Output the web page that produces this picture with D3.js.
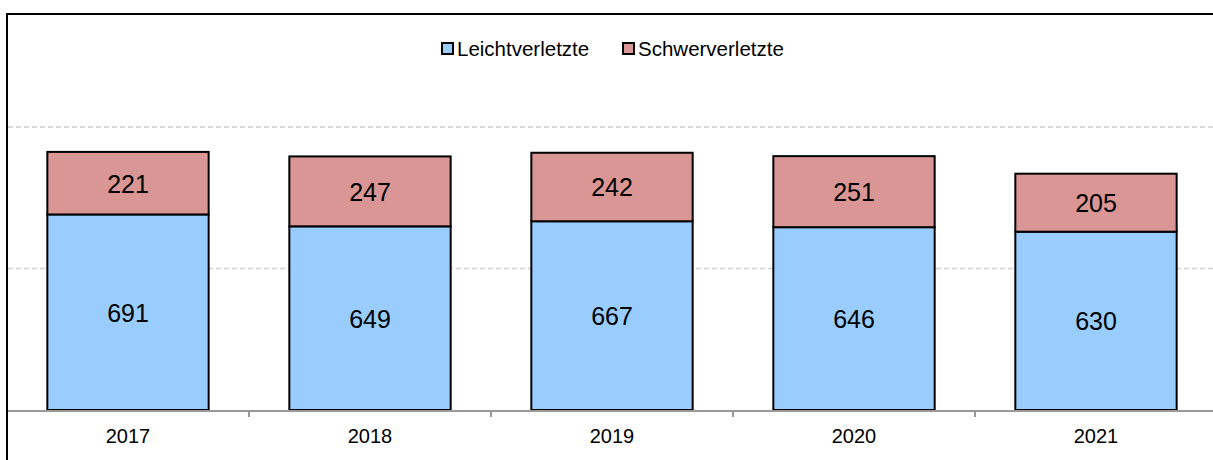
<!DOCTYPE html>
<html><head><meta charset="utf-8">
<script src="https://cdn.jsdelivr.net/npm/d3@7"></script>
<style>body{margin:0;background:#fff}svg{display:block}text{font-family:"Liberation Sans",Arial,sans-serif}</style>
</head><body><svg id="c" width="1213" height="460"></svg>
<script>
const years = ["2017","2018","2019","2020","2021"];
const leicht = [691, 649, 667, 646, 630];
const schwer = [221, 247, 242, 251, 205];
const seriesNames = ["Leichtverletzte","Schwerverletzte"];
const seriesColors = ["#99CCFF","#D99694"];
const gridValues = [500, 1000];

const svg = d3.select("#c");
const W = 1213, H = 460;
const x = d3.scaleBand().domain(years).range([7, 1217]).paddingInner(1/3).paddingOuter(1/6);
const y = d3.scaleLinear().domain([0, 1000]).range([410, 127]);

// frame
svg.append("rect").attr("x",7).attr("y",14).attr("width",1300).attr("height",600)
  .attr("fill","none").attr("stroke","#000").attr("stroke-width",2);

// gridlines
svg.append("g").selectAll("line").data(gridValues).join("line")
  .attr("x1",8).attr("x2",W).attr("y1",d=>y(d)).attr("y2",d=>y(d))
  .attr("stroke","#d0d0d0").attr("stroke-width",1.5).attr("stroke-dasharray","5,3");

const data = years.map((yr,i)=>({yr, vals:[leicht[i], schwer[i]]}));
const stack = [];
data.forEach(d=>{
  let base = 0;
  d.vals.forEach((v,k)=>{ stack.push({yr:d.yr,k,v,y0:base,y1:base+v}); base+=v; });
});

// bars
svg.append("g").selectAll("rect").data(stack).join("rect")
  .attr("x",d=>x(d.yr)).attr("width",x.bandwidth())
  .attr("y",d=>y(d.y1)).attr("height",d=>y(d.y0)-y(d.y1))
  .attr("fill",d=>seriesColors[d.k]).attr("stroke","#000").attr("stroke-width",2);

// labels
svg.append("g").selectAll("text").data(stack).join("text")
  .attr("x",d=>x(d.yr)+x.bandwidth()/2).attr("y",d=>(y(d.y0)+y(d.y1))/2 + 9.5)
  .attr("text-anchor","middle")
  .attr("font-size",25).attr("fill","#000").text(d=>d.v);

// x axis
const axis = svg.append("g");
axis.append("line").attr("x1",8).attr("x2",W).attr("y1",411).attr("y2",411)
  .attr("stroke","#999").attr("stroke-width",2);
const bounds = years.slice(1).map(yr=>x(yr)-x.step()*x.paddingInner()/2);
axis.selectAll("line.t").data(bounds).join("line").attr("class","t")
  .attr("x1",d=>d).attr("x2",d=>d).attr("y1",411).attr("y2",417)
  .attr("stroke","#999").attr("stroke-width",2);
axis.selectAll("text").data(years).join("text")
  .attr("x",d=>x(d)+x.bandwidth()/2).attr("y",443)
  .attr("text-anchor","middle").attr("font-size",20).attr("fill","#000").text(d=>d);

// legend
const lg = svg.append("g");
const lx = [442, 623];
seriesNames.forEach((n,i)=>{
  lg.append("rect").attr("x",lx[i]).attr("y",43).attr("width",11).attr("height",11)
    .attr("fill",seriesColors[i]).attr("stroke","#000").attr("stroke-width",2);
  lg.append("text").attr("x",lx[i]+15).attr("y",56).attr("font-size",20.5)
    .attr("fill","#000").text(n);
});
</script></body></html>
